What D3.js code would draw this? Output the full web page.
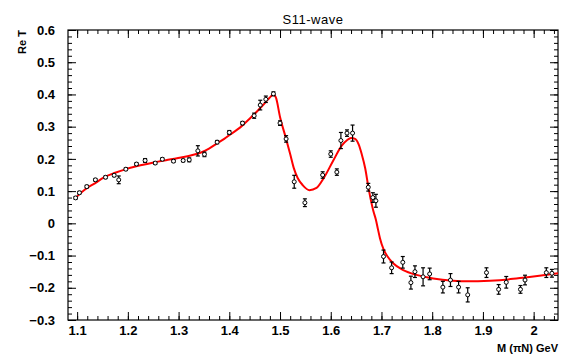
<!DOCTYPE html>
<html>
<head>
<meta charset="utf-8">
<script src="https://cdn.jsdelivr.net/npm/d3@7"></script>
<style>
  body { margin: 0; background: #fff; }
  svg { display: block; }
  .tick-lbl { font-family: "Liberation Sans", Arial, sans-serif; font-weight: bold; font-size: 13px; fill: #000; }
</style>
</head>
<body>
<div id="chart"></div>
<script>
// measured points (M in GeV, Re T, error)
const dataM = [1.097, 1.1045, 1.119, 1.136, 1.156, 1.173, 1.182, 1.196, 1.217, 1.234, 1.254, 1.268, 1.290, 1.309, 1.321,
  1.338, 1.351, 1.376, 1.400, 1.426, 1.449, 1.461, 1.472, 1.487, 1.500, 1.512, 1.528, 1.549, 1.584, 1.600,
  1.612, 1.620, 1.632, 1.643, 1.674, 1.683, 1.689, 1.704, 1.720, 1.742, 1.758, 1.766, 1.782, 1.795, 1.821,
  1.836, 1.852, 1.870, 1.907, 1.931, 1.946, 1.974, 1.983, 2.025, 2.036]
const dataReT = [0.079, 0.095, 0.114, 0.135, 0.143, 0.149, 0.135, 0.168, 0.184, 0.195, 0.187, 0.199, 0.193, 0.195, 0.197,
  0.225, 0.214, 0.252, 0.282, 0.311, 0.334, 0.367, 0.385, 0.402, 0.311, 0.262, 0.129, 0.064, 0.150, 0.215,
  0.159, 0.257, 0.280, 0.280, 0.112, 0.080, 0.070, -0.103, -0.138, -0.121, -0.184, -0.150, -0.166, -0.157, -0.198,
  -0.176, -0.198, -0.222, -0.153, -0.205, -0.183, -0.205, -0.176, -0.153, -0.155]
const dataErr = [0.004, 0.004, 0.004, 0.004, 0.004, 0.004, 0.012, 0.004, 0.004, 0.006, 0.004, 0.004, 0.004, 0.004, 0.006,
  0.016, 0.007, 0.005, 0.006, 0.005, 0.008, 0.015, 0.010, 0.006, 0.007, 0.010, 0.020, 0.012, 0.010, 0.010,
  0.010, 0.025, 0.010, 0.025, 0.012, 0.015, 0.020, 0.020, 0.018, 0.018, 0.020, 0.018, 0.028, 0.018, 0.018,
  0.020, 0.018, 0.022, 0.015, 0.015, 0.018, 0.012, 0.015, 0.015, 0.012]

// fitted curve
const fitM = [1.097, 1.11, 1.12, 1.135, 1.152, 1.175, 1.198, 1.225, 1.251, 1.275, 1.297, 1.32, 1.343, 1.36, 1.376,
  1.39, 1.402, 1.421, 1.441, 1.455, 1.467, 1.476, 1.482, 1.487, 1.492, 1.50, 1.512, 1.52, 1.527, 1.535,
  1.545, 1.558, 1.572, 1.586, 1.605, 1.622, 1.632, 1.640, 1.648, 1.655, 1.661, 1.668, 1.674, 1.680, 1.684,
  1.689, 1.693, 1.697, 1.704, 1.712, 1.723, 1.743, 1.769, 1.802, 1.841, 1.868, 1.914, 1.95, 1.983, 2.015, 2.048]
const fitReT = [0.079, 0.098, 0.110, 0.124, 0.142, 0.157, 0.169, 0.180, 0.189, 0.196, 0.202, 0.209, 0.219, 0.232, 0.248,
  0.262, 0.276, 0.297, 0.326, 0.348, 0.368, 0.384, 0.394, 0.400, 0.390, 0.330, 0.262, 0.215, 0.172, 0.140,
  0.118, 0.103, 0.110, 0.140, 0.195, 0.242, 0.258, 0.265, 0.262, 0.245, 0.215, 0.170, 0.114, 0.065, 0.038,
  0.011, -0.018, -0.046, -0.080, -0.103, -0.124, -0.145, -0.160, -0.171, -0.178, -0.180, -0.178, -0.174, -0.168, -0.162, -0.155]

const xTicks = [1.1, 1.2, 1.3, 1.4, 1.5, 1.6, 1.7, 1.8, 1.9, 2.0]
const xTickLabels = ['1.1', '1.2', '1.3', '1.4', '1.5', '1.6', '1.7', '1.8', '1.9', '2']
const yTicks = [-0.3, -0.2, -0.1, 0, 0.1, 0.2, 0.3, 0.4, 0.5, 0.6]
const yTickLabels = ['\u22120.3', '\u22120.2', '\u22120.1', '0', '0.1', '0.2', '0.3', '0.4', '0.5', '0.6']

const W = 561, H = 355
const margin = {top: 30, right: 3, bottom: 35, left: 68}
const width = W - margin.left - margin.right
const height = H - margin.top - margin.bottom

const svg = d3.select('#chart').append('svg')
    .attr('width', W)
    .attr('height', H)

const g = svg.append('g')
    .attr('transform', `translate(${margin.left},${margin.top})`)

const x = d3.scaleLinear().domain([1.082, 2.048]).range([0, width])
const y = d3.scaleLinear().domain([-0.3, 0.6]).range([height, 0])

// minor tick positions
const xMinor = d3.range(1.1, 2.05, 0.02).filter(v => x(v) <= width + 0.5)
const yMinor = d3.range(-0.3, 0.601, 0.02)

const fmtX = d => xTickLabels[xTicks.findIndex(t => Math.abs(t - d) < 1e-6)]
const fmtY = d => yTickLabels[yTicks.findIndex(t => Math.abs(t - d) < 1e-6)]

function styleAxis(sel) {
    sel.select('.domain').remove()
    sel.selectAll('line').attr('stroke', '#000').attr('stroke-width', 1)
    sel.selectAll('text').attr('class', 'tick-lbl').attr('font-size', null).attr('font-family', null)
}

// bottom
g.append('g').attr('transform', `translate(0,${height})`)
    .call(d3.axisBottom(x).tickValues(xMinor).tickSize(-4).tickFormat(''))
    .call(styleAxis)
g.append('g').attr('transform', `translate(0,${height})`)
    .call(d3.axisBottom(x).tickValues(xTicks).tickSize(-8).tickPadding(6).tickFormat(fmtX))
    .call(styleAxis)
// top
g.append('g')
    .call(d3.axisTop(x).tickValues(xMinor).tickSize(-4).tickFormat(''))
    .call(styleAxis)
g.append('g')
    .call(d3.axisTop(x).tickValues(xTicks).tickSize(-8).tickFormat(''))
    .call(styleAxis)
// left
g.append('g')
    .call(d3.axisLeft(y).tickValues(yMinor).tickSize(-4).tickFormat(''))
    .call(styleAxis)
g.append('g')
    .call(d3.axisLeft(y).tickValues(yTicks).tickSize(-8).tickPadding(13).tickFormat(fmtY))
    .call(styleAxis)
// right
g.append('g').attr('transform', `translate(${width},0)`)
    .call(d3.axisRight(y).tickValues(yMinor).tickSize(-4).tickFormat(''))
    .call(styleAxis)
g.append('g').attr('transform', `translate(${width},0)`)
    .call(d3.axisRight(y).tickValues(yTicks).tickSize(-8).tickFormat(''))
    .call(styleAxis)

// frame
g.append('rect')
    .attr('width', width).attr('height', height)
    .attr('fill', 'none').attr('stroke', '#000').attr('stroke-width', 1.2)

// fit curve
const fitData = fitM.map((m, i) => ({m: m, v: fitReT[i]}))
g.append('path')
    .datum(fitData)
    .attr('fill', 'none')
    .attr('stroke', '#ff0000')
    .attr('stroke-width', 2)
    .attr('d', d3.line().x(d => x(d.m)).y(d => y(d.v)).curve(d3.curveMonotoneX))

// data points with error bars
const pts = dataM.map((m, i) => ({m: m, v: dataReT[i], e: dataErr[i]}))
const pg = g.append('g').selectAll('g').data(pts).enter().append('g')
    .attr('transform', d => `translate(${x(d.m)},0)`)

pg.append('line')
    .attr('x1', 0).attr('x2', 0)
    .attr('y1', d => y(d.v + d.e)).attr('y2', d => y(d.v - d.e))
    .attr('stroke', '#000').attr('stroke-width', 1.2)
pg.append('line')
    .attr('x1', -2).attr('x2', 2)
    .attr('y1', d => y(d.v + d.e)).attr('y2', d => y(d.v + d.e))
    .attr('stroke', '#000').attr('stroke-width', 1.2)
pg.append('line')
    .attr('x1', -2).attr('x2', 2)
    .attr('y1', d => y(d.v - d.e)).attr('y2', d => y(d.v - d.e))
    .attr('stroke', '#000').attr('stroke-width', 1.2)
pg.append('circle')
    .attr('cy', d => y(d.v))
    .attr('r', 2)
    .attr('fill', '#fff')
    .attr('stroke', '#000')
    .attr('stroke-width', 1)

// title and axis titles
svg.append('text')
    .attr('x', 313).attr('y', 24)
    .attr('text-anchor', 'middle')
    .attr('font-family', '"Liberation Sans", Arial, sans-serif')
    .attr('font-size', 13)
    .attr('letter-spacing', 0.5)
    .text('S11-wave')

svg.append('text')
    .attr('transform', 'translate(26,42) rotate(-90)')
    .attr('text-anchor', 'middle')
    .attr('font-family', '"Liberation Sans", Arial, sans-serif')
    .attr('font-weight', 'bold')
    .attr('font-size', 11)
    .text('Re T')

svg.append('text')
    .attr('x', 558).attr('y', 352)
    .attr('text-anchor', 'end')
    .attr('font-family', '"Liberation Sans", Arial, sans-serif')
    .attr('font-weight', 'bold')
    .attr('font-size', 11)
    .text('M (\u03c0N)  GeV')
</script>
</body>
</html>
